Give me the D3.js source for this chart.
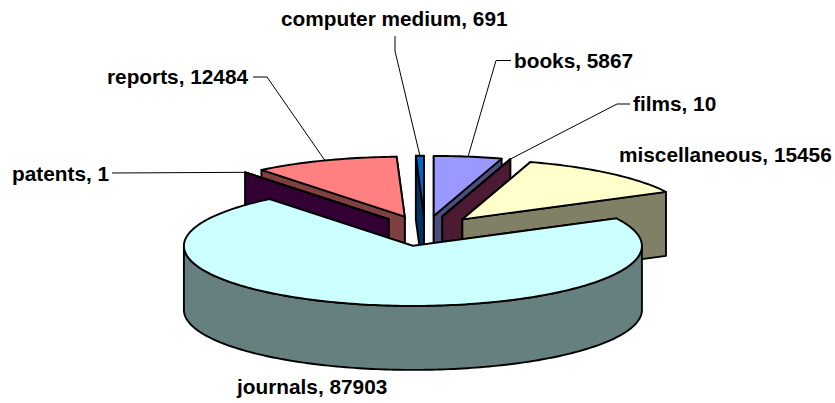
<!DOCTYPE html>
<html>
<head>
<meta charset="utf-8">
<script src="https://cdn.jsdelivr.net/npm/d3@7"></script>
<style>
html,body{margin:0;padding:0;background:#fff;}
text{font-family:"Liberation Sans",Arial,sans-serif;font-weight:bold;font-size:20.8px;fill:#000;}
</style>
</head>
<body>
<div id="chart"></div>
<script>
// values, clockwise from twelve o'clock
var names=['books','films','miscellaneous','journals','patents','reports','computer medium'];
var values=[5867,10,15456,87903,1,12484,691];
var colors=['#9999FF','#993366','#FFFFCC','#CCFFFF','#660066','#FF8080','#0066CC'];

// back to front
var drawOrder=[6,5,4,0,1,2,3];

// label: x, baseline y, and the leader points before it reaches the slice
var labelPos=[
	{x:514,y:68,elbow:[[511,60.5],[496,60.5]]},
	{x:633,y:111,elbow:[[630,104],[617,104]]},
	{x:619,y:162,elbow:null},
	{x:237,y:394,elbow:null},
	{x:12,y:181,elbow:[[112,173]]},
	{x:107,y:84,elbow:[[253,77],[267,77]]},
	{x:281,y:26,elbow:[[395,36],[395,51]]}
];

var W=835,H=403;
var cx=425,cy=231,rx=229,ry=60,explode=0.254,depth=64;

var svg=d3.select('#chart').append('svg').attr('width',W).attr('height',H);

var sx=d3.scaleLinear().domain([-1,1]).range([cx-rx,cx+rx]);
var sy=d3.scaleLinear().domain([-1,1]).range([cy-ry,cy+ry]);
var line=d3.line();

var arcs=d3.pie().sort(null).startAngle(0).endAngle(2*Math.PI)(values);

// point on the top surface, r in pie radii, a clockwise from top
function pt(d,r,a,down){
	var mid=(d.startAngle+d.endAngle)/2;
	var ux=explode*Math.sin(mid)+r*Math.sin(a);
	var uy=-explode*Math.cos(mid)-r*Math.cos(a);
	return [sx(ux),sy(uy)+(down||0)];
}
function arcPts(d,a0,a1,down){
	var n=Math.max(2,Math.ceil((a1-a0)/0.02)),i,res=[];
	for(i=0;i<=n;i++){
		res.push(pt(d,1,a0+(a1-a0)*i/n,down));
	}
	return res;
}
function halfColor(c){
	var o=d3.rgb(c);
	return d3.rgb(o.r/2,o.g/2,o.b/2).formatHex();
}
function poly(g,pts,fill){
	g.append('path').attr('d',line(pts)+'Z').attr('fill',fill)
		.attr('stroke','#000').attr('stroke-width',1.9).attr('stroke-linejoin','round');
}

drawOrder.forEach(function(i){
	var d=arcs[i],g=svg.append('g').attr('class','slice'),side=halfColor(colors[i]);
	// radial faces, the one reaching further down goes last
	var faces=[d.startAngle,d.endAngle].sort(function(a,b){return Math.cos(b)-Math.cos(a);});
	faces.forEach(function(a){
		poly(g,[pt(d,0,a),pt(d,1,a),pt(d,1,a,depth),pt(d,0,a,depth)],side);
	});
	// outer wall, only the part facing the viewer
	var a0=Math.max(d.startAngle,Math.PI/2),a1=Math.min(d.endAngle,Math.PI*1.5);
	if(a1>a0){
		poly(g,arcPts(d,a0,a1,0).concat(arcPts(d,a0,a1,depth).reverse()),side);
	}
	// top
	poly(g,[pt(d,0,d.startAngle)].concat(arcPts(d,d.startAngle,d.endAngle,0)),colors[i]);
});

// leaders and labels
labelPos.forEach(function(p,i){
	var d=arcs[i];
	if(p.elbow){
		var mid=(d.startAngle+d.endAngle)/2;
		svg.append('path').attr('d',line(p.elbow.concat([pt(d,1,mid)])))
			.attr('fill','none').attr('stroke','#000').attr('stroke-width',1);
	}
	svg.append('text').attr('x',p.x).attr('y',p.y).text(names[i]+', '+values[i]);
});
</script>
</body>
</html>
